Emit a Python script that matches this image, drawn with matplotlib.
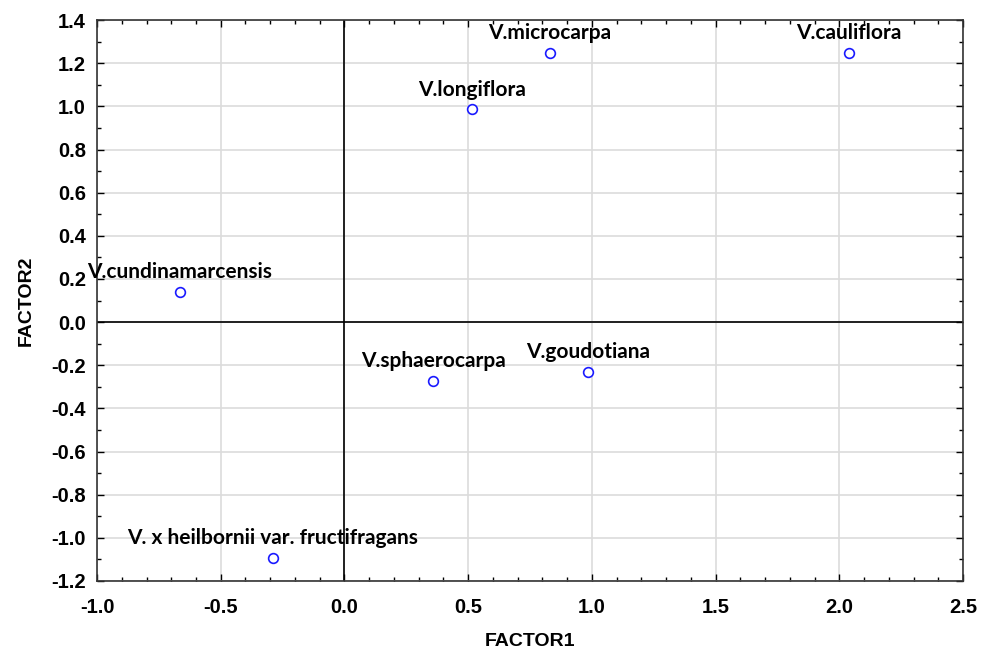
import matplotlib
matplotlib.use("Agg")
import matplotlib.pyplot as plt
from matplotlib.ticker import MultipleLocator, FormatStrFormatter

names = ["V.microcarpa", "V.cauliflora", "V.longiflora", "V.cundinamarcensis",
         "V.sphaerocarpa", "V.goudotiana", "V. x heilbornii var. fructifragans"]
factor1 = [0.83, 2.04, 0.515, -0.665, 0.358, 0.984, -0.289]
factor2 = [1.25, 1.25, 0.987, 0.139, -0.273, -0.232, -1.094]

fig = plt.figure(figsize=(9.82, 6.5), dpi=100)
ax = fig.add_axes([0.0988, 0.1062, 0.8819, 0.8628])

ax.set_xlim(-1.0, 2.5)
ax.set_ylim(-1.2, 1.4)
ax.xaxis.set_major_locator(MultipleLocator(0.5))
ax.xaxis.set_minor_locator(MultipleLocator(0.1))
ax.yaxis.set_major_locator(MultipleLocator(0.2))
ax.yaxis.set_minor_locator(MultipleLocator(0.1))
ax.grid(True, which="major", color="#dcdcdc", linewidth=1.2)
ax.set_axisbelow(True)
ax.axhline(0, color="black", linewidth=1.2, zorder=2)
ax.axvline(0, color="black", linewidth=1.2, zorder=2)

ax.tick_params(which="both", direction="in", top=True, right=True)
ax.tick_params(which="major", length=5, width=1, labelsize=14.5)
ax.tick_params(axis="x", which="major", pad=12)
ax.tick_params(axis="y", which="major", pad=8)
ax.tick_params(which="minor", length=3, width=1)
for s in ax.spines.values():
    s.set_linewidth(1.2)
    s.set_color("#333333")

ax.xaxis.set_major_formatter(FormatStrFormatter("%.1f"))
ax.yaxis.set_major_formatter(FormatStrFormatter("%.1f"))
for lab in ax.get_xticklabels() + ax.get_yticklabels():
    lab.set_fontfamily("Liberation Sans")
    lab.set_fontweight("bold")

ax.plot(factor1, factor2, linestyle="none", marker="o", markersize=7,
        markerfacecolor="white", markeredgecolor="#1a1aff", markeredgewidth=1.2, zorder=3)
for n, x, y in zip(names, factor1, factor2):
    ax.annotate(n, (x, y), xytext=(0, 7), textcoords="offset points",
                ha="center", va="bottom", fontsize=15, fontweight="bold",
                fontfamily="Lato", zorder=4)

ax.set_xlabel("FACTOR1", fontsize=14, fontweight="bold", fontfamily="Liberation Sans", labelpad=12)
ax.set_ylabel("FACTOR2", fontsize=14, fontweight="bold", fontfamily="Liberation Sans", labelpad=12)

fig.savefig("out.png", dpi=100)
